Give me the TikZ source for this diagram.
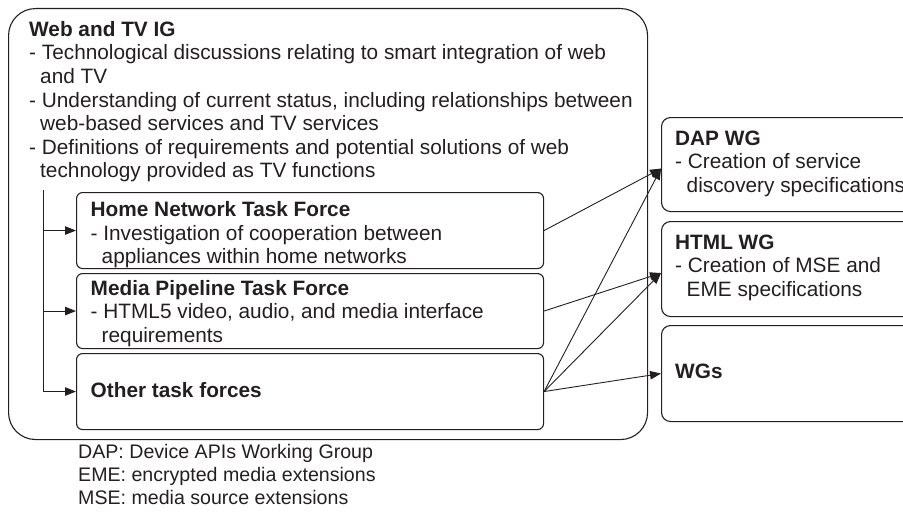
\documentclass[tikz,border=0pt]{standalone}
\usepackage{fontspec}
\setmainfont{Liberation Sans}
\usetikzlibrary{arrows.meta}
\definecolor{ink}{HTML}{231F20}
\begin{document}
\begin{tikzpicture}[x=1pt,y=-1pt,
  box/.style={draw=ink, line width=1.1pt, inner sep=0pt, anchor=north west},
  igbox/.style={box, rounded corners=27pt},
  tfbox/.style={box, rounded corners=6pt},
  wgbox/.style={box, rounded corners=9pt},
  txt/.style={anchor=base west, inner sep=0pt, text=ink, font=\fontsize{20.8}{23.5}\selectfont},
  btxt/.style={txt, font=\fontsize{20.8}{23.5}\selectfont\bfseries},
  note/.style={txt, font=\fontsize{19.6}{23}\selectfont},
  conn/.style={draw=ink, line width=0.9pt},
  arr/.style={conn, -{Triangle[length=11pt,width=8.5pt]}},
]
\useasboundingbox (0,0) rectangle (903,519);
\clip (0,0) rectangle (903,519);

% boxes
\node[igbox, minimum width=639pt, minimum height=431pt] (ig) at (8,8) {};
\node[tfbox, minimum width=467pt, minimum height=76pt] (home) at (76,192) {};
\node[tfbox, minimum width=467pt, minimum height=75pt] (media) at (76,273) {};
\node[tfbox, minimum width=467pt, minimum height=76pt] (other) at (76,353) {};
\node[wgbox, minimum width=270pt, minimum height=94pt] (dap) at (661,117) {};
\node[wgbox, minimum width=270pt, minimum height=95pt] (html) at (661,221) {};
\node[wgbox, minimum width=270pt, minimum height=96pt] (wgs) at (661,325) {};

% IG text
\node[btxt] (t1) at (29,36.5) {Web and TV IG};
\node[txt] (t2) at (29,60) {- Technological discussions relating to smart integration of web};
\node[txt] (t3) at (40,83.5) {and TV};
\node[txt] (t4) at (29,107) {- Understanding of current status, including relationships between};
\node[txt] (t5) at (40,130.5) {web-based services and TV services};
\node[txt] (t6) at (29,154) {- Definitions of requirements and potential solutions of web};
\node[txt] (t7) at (40,177.5) {technology provided as TV functions};

% task force text
\node[btxt] (h1) at (90.5,216.5) {Home Network Task Force};
\node[txt] (h2) at (90.5,240) {- Investigation of cooperation between};
\node[txt] (h3) at (101.5,263.5) {appliances within home networks};
\node[btxt] (m1) at (90.5,295) {Media Pipeline Task Force};
\node[txt] (m2) at (90.5,318.5) {- HTML5 video, audio, and media interface};
\node[txt] (m3) at (101.5,342) {requirements};
\node[btxt] (o1) at (90.5,397) {Other task forces};

% WG text
\node[btxt] (d1) at (675,145) {DAP WG};
\node[txt] (d2) at (675,168.5) {- Creation of service};
\node[txt] (d3) at (686.5,192) {discovery specifications};
\node[btxt] (w1) at (675,249) {HTML WG};
\node[txt] (w2) at (675,272.5) {- Creation of MSE and};
\node[txt] (w3) at (686.5,296) {EME specifications};
\node[btxt] (g1) at (675,378) {WGs};

% notes
\node[note] (n1) at (78,458) {DAP: Device APIs Working Group};
\node[note] (n2) at (78,481) {EME: encrypted media extensions};
\node[note] (n3) at (78,504) {MSE: media source extensions};

% connectors
\coordinate (trunk) at (43,190);
\draw[arr] (trunk) |- (other.west);
\draw[arr] (trunk |- home.west) -- (home.west);
\draw[arr] (trunk |- media.west) -- (media.west);

\coordinate (dapin) at ([yshift=-4pt]dap.west);
\coordinate (htmlin) at ([yshift=-4pt]html.west);
\draw[arr] (home.east) -- (dapin);
\draw[arr] (media.east) -- (htmlin);
\draw[arr] (other.east) -- (dapin);
\draw[arr] (other.east) -- (htmlin);
\draw[arr] (other.east) -- (wgs.west);
\end{tikzpicture}
\end{document}
